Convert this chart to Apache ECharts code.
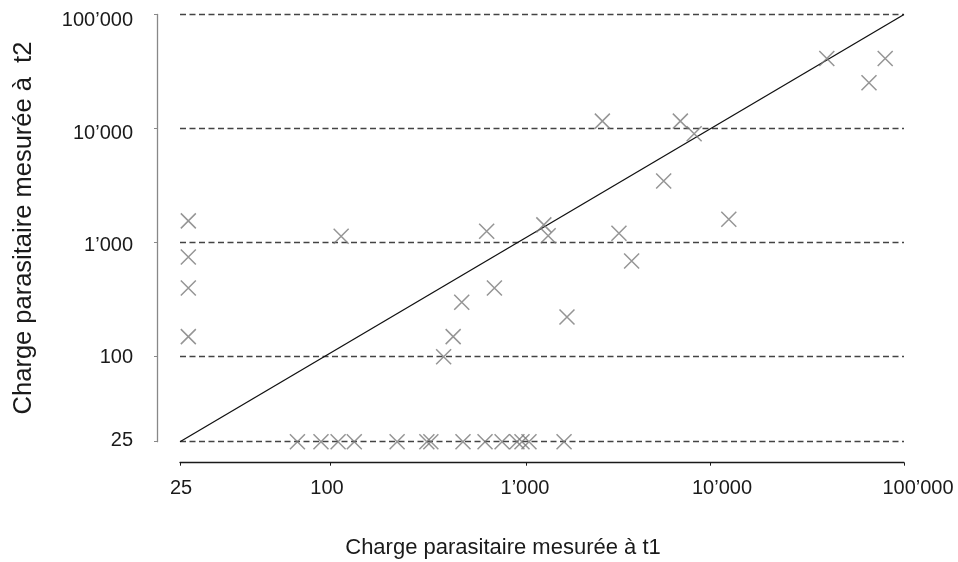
<!DOCTYPE html>
<html>
<head>
<meta charset="utf-8">
<script src="https://cdn.jsdelivr.net/npm/echarts@6/dist/echarts.min.js"></script>
<style>
html,body{margin:0;padding:0;background:#fff;}
#chart{width:958px;height:562px;}
</style>
</head>
<body>
<div id="chart"></div>
<script>
// ---- data ----
const t1 = [40000, 66000, 80000, 6900, 8200, 2600, 5600, 12500, 1250, 1320, 630, 3200, 3750, 690, 470, 1670, 425, 380, 114, 27, 27, 27, 27,
            74, 92, 110, 133, 220, 312, 327, 477, 618, 755, 899, 954, 1038, 1610];
const t2 = [41000, 25000, 41000, 11500, 8900, 11500, 3450, 1600, 1430, 1150, 1260, 1210, 690, 400, 300, 223, 150, 100, 1140, 1550, 750, 400, 150,
            25, 25, 25, 25, 25, 25, 25, 25, 25, 25, 25, 25, 25, 25];
const identityLine = [25, 100000];

// tick values and labels
const tickValues = [25, 100, 1000, 10000, 100000];
const tickLabels = ["25", "100", "1\u2019000", "10\u2019000", "100\u2019000"];

// axis scale knots (axis units at each tick value; piecewise log scale as in the original)
const xKnots = [0, 150, 346, 530, 724];
const yKnots = [0, 85, 199, 313.7, 427.2];
// label nudges (the original's labels are not centred exactly on their ticks)
const xLabelShift = [1, -3, -1, 12, 14];
const yLabelShift = [-1, 1, 3, 5, 6];

function makeScale(vals, knots) {
  const lv = vals.map(v => Math.log10(v));
  return function (v) {
    const l = Math.log10(v);
    let i = 0;
    while (i < lv.length - 2 && l > lv[i + 1]) i++;
    const t = (l - lv[i]) / (lv[i + 1] - lv[i]);
    return knots[i] + t * (knots[i + 1] - knots[i]);
  };
}
const sx = makeScale(tickValues, xKnots);
const sy = makeScale(tickValues, yKnots);

const pts = t1.map((v, i) => [sx(v), sy(t2[i])]);
const linePts = identityLine.map(v => [sx(v), sy(v)]);

const FONT = "'Liberation Sans', Arial, Helvetica, sans-serif";
function labelFor(knots) {
  return function (val) {
    for (let i = 0; i < knots.length; i++) {
      if (Math.abs(knots[i] - val) < 0.01) return '{l' + i + '|' + tickLabels[i] + '}';
    }
    return '';
  };
}
function richFor(shifts, horizontal) {
  const r = {};
  shifts.forEach((d, i) => {
    const p = 2 * Math.abs(d);
    let pad;
    if (horizontal) pad = d >= 0 ? [0, 0, 0, p] : [0, p, 0, 0];
    else pad = d >= 0 ? [p, 0, 0, 0] : [0, 0, p, 0];
    r['l' + i] = {fontFamily: FONT, fontSize: 20, color: '#1a1a1a', padding: pad};
  });
  return r;
}

const chart = echarts.init(document.getElementById('chart'), null, {renderer: 'canvas'});
chart.setOption({
  animation: false,
  backgroundColor: '#fff',
  grid: {left: 180, top: 14.5, width: 724, height: 427.2, containLabel: false},
  xAxis: {
    type: 'value', min: 0, max: xKnots[xKnots.length - 1], offset: 21,
    axisLine: {show: true, onZero: false, lineStyle: {color: '#1a1a1a', width: 1.3}},
    axisTick: {show: true, customValues: xKnots, length: 3, lineStyle: {color: '#1a1a1a', width: 1}},
    axisLabel: {customValues: xKnots, formatter: labelFor(xKnots), margin: 16, hideOverlap: false,
      fontFamily: FONT, fontSize: 20, color: '#1a1a1a', rich: richFor(xLabelShift, true)},
    splitLine: {show: false}
  },
  yAxis: {
    type: 'value', min: 0, max: yKnots[yKnots.length - 1], offset: 23,
    axisLine: {show: true, onZero: false, lineStyle: {color: '#888', width: 1.3}},
    axisTick: {show: true, customValues: yKnots, length: 3, lineStyle: {color: '#888', width: 1}},
    axisLabel: {customValues: yKnots, formatter: labelFor(yKnots), margin: 24, hideOverlap: false,
      fontFamily: FONT, fontSize: 20, color: '#1a1a1a', rich: richFor(yLabelShift, false)},
    splitLine: {show: true, lineStyle: {color: '#444', width: 1.3, type: [6, 3.5]}}
  },
  graphic: [
    {type: 'text', x: 503, y: 548,
     style: {text: 'Charge parasitaire mesur\u00e9e \u00e0 t1', textAlign: 'center', textVerticalAlign: 'middle',
       font: '22px ' + FONT, fill: '#1a1a1a'}},
    {type: 'text', rotation: Math.PI / 2, x: 24, y: 228,
     style: {text: 'Charge parasitaire mesur\u00e9e \u00e0  t2', textAlign: 'center', textVerticalAlign: 'middle',
       font: '25.5px ' + FONT, fill: '#1a1a1a'}}
  ],
  series: [
    {
      type: 'line', data: linePts, showSymbol: false, symbol: 'none', silent: true,
      lineStyle: {color: '#111', width: 1.3}, z: 3
    },
    {
      type: 'scatter', data: pts, silent: true,
      symbol: 'path://M0 0L20 20M20 0L0 20', symbolSize: 15,
      itemStyle: {color: 'rgba(0,0,0,0)', borderColor: '#7a7a7a', borderWidth: 1.5}, z: 4
    }
  ]
});
</script>
</body>
</html>
